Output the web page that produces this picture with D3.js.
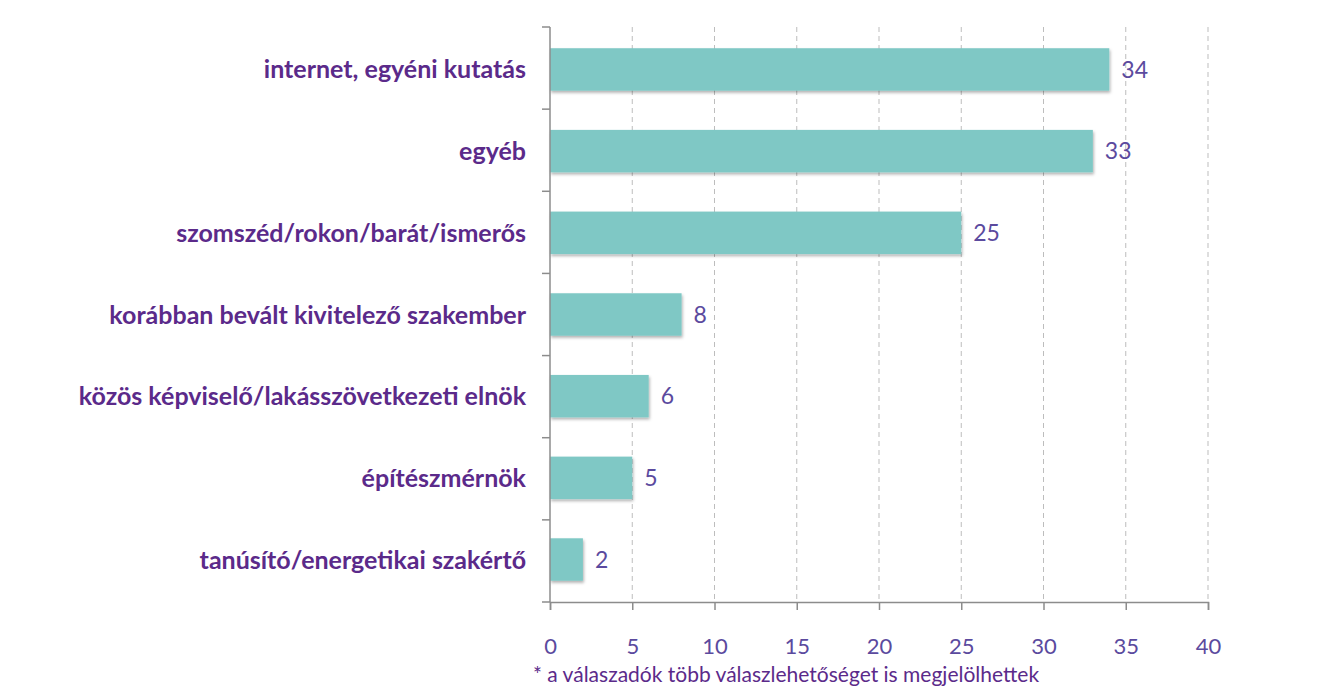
<!DOCTYPE html>
<html>
<head>
<meta charset="utf-8">
<script src="https://cdn.jsdelivr.net/npm/d3@7"></script>
<style>
  body { margin: 0; background: #fff; }
  svg text { font-family: Lato, "Open Sans", sans-serif; }
</style>
</head>
<body>
<div id="chart"></div>
<script>
var categories = [
  "internet, egyéni kutatás",
  "egyéb",
  "szomszéd/rokon/barát/ismerős",
  "korábban bevált kivitelező szakember",
  "közös képviselő/lakásszövetkezeti elnök",
  "építészmérnök",
  "tanúsító/energetikai szakértő"
];
var values = [34, 33, 25, 8, 6, 5, 2];
var xTicks = [0, 5, 10, 15, 20, 25, 30, 35, 40];
var footnote = "* a válaszadók több válaszlehetőséget is megjelölhettek";

var width = 1317, height = 686;
var margin = {top: 27, right: 109, bottom: 84, left: 550};
var w = width - margin.left - margin.right,
    h = height - margin.top - margin.bottom;

var svg = d3.select("#chart").append("svg")
    .attr("width", width)
    .attr("height", height);

var defs = svg.append("defs");
var f = defs.append("filter").attr("id", "shadow")
    .attr("x", "-5%").attr("y", "-10%").attr("width", "115%").attr("height", "140%");
f.append("feDropShadow").attr("dx", 1).attr("dy", 2).attr("stdDeviation", 1.5)
    .attr("flood-color", "#000").attr("flood-opacity", 0.3);

var g = svg.append("g").attr("transform", "translate(" + margin.left + "," + margin.top + ")");

var x = d3.scaleLinear().domain([0, 40]).range([0, w]);
var y = d3.scaleBand().domain(categories).range([0, h]).paddingInner(0.48).paddingOuter(0.26);

// gridlines
g.selectAll(".grid")
  .data(xTicks.slice(1))
  .enter().append("line")
    .attr("x1", function(d) { return x(d); })
    .attr("x2", function(d) { return x(d); })
    .attr("y1", 0)
    .attr("y2", h)
    .attr("stroke", "#bdbdbd")
    .attr("stroke-width", 1)
    .attr("stroke-dasharray", "5,4");

// bars
g.selectAll(".bar")
  .data(values)
  .enter().append("rect")
    .attr("x", 0)
    .attr("y", function(d, i) { return y(categories[i]); })
    .attr("width", function(d) { return x(d); })
    .attr("height", y.bandwidth())
    .attr("fill", "#7fc8c5")
    .attr("filter", "url(#shadow)");

// value labels
g.selectAll(".val")
  .data(values)
  .enter().append("text")
    .attr("x", function(d) { return x(d) + 12; })
    .attr("y", function(d, i) { return y(categories[i]) + y.bandwidth() / 2; })
    .attr("dy", "0.36em")
    .attr("fill", "#5b4a9e")
    .attr("font-size", 23)
    .text(function(d) { return d; });

// y axis: line and ticks at band boundaries
var yAxis = g.append("g");
yAxis.append("line")
    .attr("x1", 0).attr("x2", 0).attr("y1", 0).attr("y2", h)
    .attr("stroke", "#8c8c8c").attr("stroke-width", 1.5);
var bounds = d3.range(categories.length + 1).map(function(i) { return i * h / categories.length; });
yAxis.selectAll(".yt")
  .data(bounds)
  .enter().append("line")
    .attr("x1", -8).attr("x2", 0)
    .attr("y1", function(d) { return d; })
    .attr("y2", function(d) { return d; })
    .attr("stroke", "#8c8c8c").attr("stroke-width", 1.5);

// category labels
g.selectAll(".cat")
  .data(categories)
  .enter().append("text")
    .attr("x", -24)
    .attr("y", function(d) { return y(d) + y.bandwidth() / 2; })
    .attr("dy", "0.36em")
    .attr("text-anchor", "end")
    .attr("fill", "#5b2a8a")
    .attr("font-weight", "bold")
    .attr("font-size", 25)
    .text(function(d) { return d; });

// x axis
var xAxis = g.append("g")
    .attr("transform", "translate(0," + h + ")")
    .call(d3.axisBottom(x).tickValues(xTicks).tickSize(8).tickPadding(28));
xAxis.select(".domain").attr("stroke", "#8c8c8c").attr("stroke-width", 1.5);
xAxis.selectAll(".tick line").attr("stroke", "#8c8c8c").attr("stroke-width", 1.5);
xAxis.selectAll(".tick text")
    .attr("fill", "#5b4a9e")
    .attr("font-size", 22)
    .style("font-family", "Lato, 'Open Sans', sans-serif");

svg.append("text")
    .attr("x", 533)
    .attr("y", 682)
    .attr("fill", "#5b2a8a")
    .attr("font-size", 21)
    .text(footnote);
</script>
</body>
</html>
